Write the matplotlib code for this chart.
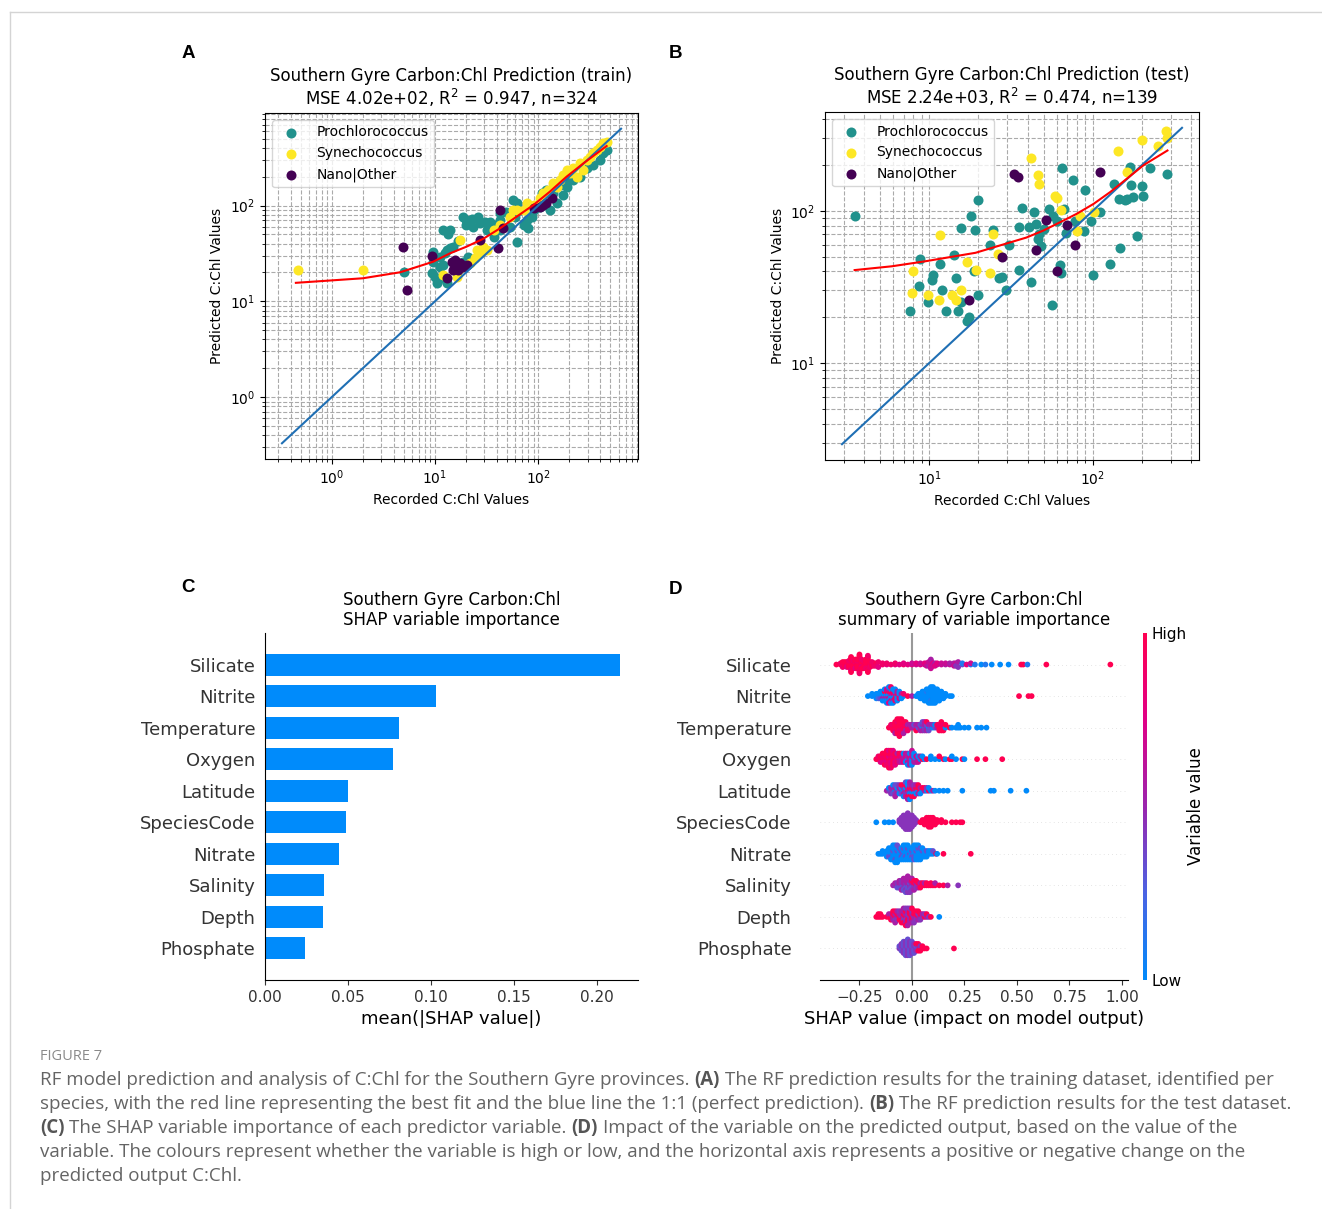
import numpy as np
import matplotlib
matplotlib.use("Agg")
import matplotlib.pyplot as plt
from matplotlib.colors import LinearSegmentedColormap, Normalize
from matplotlib.cm import ScalarMappable
from matplotlib.lines import Line2D

# ---------------- data: panel A (train) ----------------
teal_A_x = [5.0, 9.6, 10.4, 9.3, 11.2, 12, 10, 12.5, 13, 14, 15, 12, 14, 13.5, 16.8, 18.8, 20, 22.6, 26, 27,
            30.5, 34, 37, 43, 43, 49, 57, 62, 66, 59, 53, 62, 72, 80, 20, 23.5, 11.6, 13, 16.2, 17.5, 18.8, 21,
            11.2, 9.6, 43, 31.6, 37, 90, 104, 108, 120, 140, 162, 188, 188, 218, 253, 294, 341, 395, 426, 459,
            151, 175, 130, 77, 86]
teal_A_y = [20, 33, 15.4, 19.6, 23, 24, 18, 32, 34, 36, 37, 55, 56, 50, 43, 76, 71, 73, 76, 65,
            68, 68, 63, 71, 83, 86, 114, 105, 90, 76, 60, 42, 63, 58, 63, 60, 17.4, 15.4, 20.4, 23, 26, 29,
            29, 26, 55.5, 55.5, 47, 90, 97, 134, 145, 134, 164, 157, 185, 185, 200, 244, 265, 299, 351, 380,
            105, 129, 90, 71, 76]
yellow_A_x = [0.47, 2.0, 17.5, 16.8, 18.8, 21.8, 24.4, 27, 29.4, 31.6, 37, 43, 53, 57, 62, 72, 77, 90, 104, 112,
              125, 140, 151, 162, 175, 188, 203, 218, 253, 294, 316, 367, 395, 426, 459, 235, 273, 341, 12, 16.2,
              25.3, 120]
yellow_A_y = [21, 21, 44, 21, 23, 25, 28, 32, 37, 34, 55.5, 63, 76, 90, 90, 90, 105, 101, 119, 134,
              145, 171, 157, 185, 208, 235, 217, 244, 275, 299, 324, 380, 411, 446, 463, 200, 235, 351, 18.8, 18,
              34, 114]
purple_A_x = [4.9, 5.4, 9.3, 13, 14.5, 15.6, 16.2, 17.5, 18.8, 16.8, 15, 20.2, 27, 41, 46, 43, 90, 104, 112, 135, 120]
purple_A_y = [37, 13, 30, 17.4, 26, 27, 24, 25, 23, 21, 21, 24, 44, 36, 58, 90, 94, 97, 101, 119, 105]
one2one_A = [0.33, 633]
fit_A_x = [0.45, 2.0, 4.6, 9.6, 14, 20.2, 29.4, 42.6, 61.7, 89.5, 130, 188, 273, 459]
fit_A_y = [15.6, 17.4, 20.1, 25.9, 31.7, 37.2, 45, 57.8, 76.5, 101, 140, 200, 275, 418]

# ---------------- data: panel B (test) ----------------
teal_B_x = [3.5, 20, 18, 19, 15.7, 8.8, 8.7, 7.6, 9.9, 10.4, 10.5, 11.7, 11.9, 12.7, 14.1, 14.6, 15, 15.7, 17, 17.5,
            20, 18.8, 23.6, 24.4, 26.8, 28, 29.5, 30.6, 35.6, 35.6, 37, 41, 42, 44, 45, 46, 47, 48, 50, 54, 56, 57,
            60, 63, 64, 65, 67, 69, 76, 78, 88, 90, 97, 100, 111, 127, 135, 144, 147, 158, 162, 168, 172, 177, 187,
            200, 204, 224, 286]
teal_B_y = [92, 117, 92, 75, 77, 48, 32, 22, 25, 35, 38, 45, 30, 22, 51, 36, 22, 25, 19, 20,
            28, 40, 60, 75, 36, 37, 30, 60, 78, 41, 104, 78, 34, 98, 82, 65, 70, 59, 76, 103, 24, 93,
            86, 44, 39, 190, 103, 72, 159, 86, 74, 138, 86, 38, 98, 45, 151, 119, 57, 117, 120, 195, 148, 123, 68,
            146, 125, 192, 174]
yellow_B_x = [8.0, 7.9, 9.9, 11.4, 11.7, 13.8, 14.5, 15.7, 17, 19.4, 23.6, 24.7, 26.4, 42, 46, 47, 59, 60, 64, 80,
              84, 101, 143, 162, 200, 252, 279, 286]
yellow_B_y = [40, 29, 28, 26, 69, 28, 26, 30, 46, 41, 39, 70, 52, 224, 172, 150, 125, 121, 102, 74,
              93, 98, 246, 181, 291, 268, 334, 302]
purple_B_x = [17.5, 27.7, 33, 35, 45, 51.5, 60, 70, 78, 111]
purple_B_y = [26, 50, 175, 166, 55, 87, 40, 81, 60, 181]
one2one_B = [2.93, 351]
fit_B_x = [3.5, 5.9, 9.45, 19.2, 30.9, 39.2, 49.6, 62.9, 79.6, 101, 128, 162, 205, 286]
fit_B_y = [40.8, 43.2, 46.6, 53, 61.8, 66.7, 74, 84, 95.5, 111, 133, 163, 200, 249]

species = ["Prochlorococcus", "Synechococcus", "Nano|Other"]

# ---------------- data: panel C ----------------
features = ["Silicate", "Nitrite", "Temperature", "Oxygen", "Latitude", "SpeciesCode",
            "Nitrate", "Salinity", "Depth", "Phosphate"]
importance = [0.2139, 0.103, 0.0807, 0.0771, 0.050, 0.0488, 0.0446, 0.0355, 0.0349, 0.0241]

# ---------------- data: panel D (SHAP value per point group, colour digits 0=low .. 9=high) ----------------
silicate_x = [-.36, -.34, -.33, -.32, -.31, -.30, -.29, -.28, -.27, -.26, -.25, -.24, -.23, -.22, -.21, -.20, -.19,
              -.18, -.17, -.16, -.14, -.12, -.10, -.08, -.06, -.04, -.02, 0, .02, .04, .06, .07, .08, .09, .10,
              .11, .12, .14, .16, .18, .20, .21, .22, .24, .26, .28, .30, .33, .35, .38, .42, .46, .52, .53, .55,
              .64, .945]
silicate_c = ["9", "98", "998", "9899", "99897", "989998", "9989799", "9899989", "99989979", "98999899",
              "99899989", "89997998", "9989989", "98999989", "998998", "98998", "8998", "988", "898", "87", "88",
              "78", "8", "78", "7", "87", "7", "76", "67", "76", "67", "676", "6756", "7665", "676", "657", "67",
              "66", "56", "65", "656", "564", "54", "31", "7", "16", "1", "0", "1", "0", "0", "0", "9", "9", "1",
              "9", "9"]
nitrite_x = [-.21, -.19, -.17, -.16, -.15, -.14, -.13, -.12, -.11, -.10, -.09, -.08, -.07, -.06, -.05, -.04, -.02,
             0, .02, .03, .04, .05, .06, .07, .08, .09, .10, .11, .12, .13, .14, .15, .16, .18, .19, .51, .555, .57]
nitrite_c = ["0", "00", "000", "002", "0030", "00500", "005900", "0059060", "00690570", "05096008", "0709500",
             "069080", "08050", "9070", "050", "08", "9", "5", "0", "00", "000", "0000", "00000", "000100",
             "0000000", "00001000", "00000000", "0000000", "000000", "00000", "0000", "000", "00", "0", "0",
             "9", "9", "9"]
temp_x = [-.11, -.10, -.09, -.08, -.07, -.06, -.05, -.04, -.03, -.02, -.01, 0, .01, .02, .03, .04, .05, .06, .07,
          .08, .09, .10, .11, .12, .13, .14, .15, .16, .18, .19, .21, .22, .23, .25, .27, .31, .33, .355]
temp_c = ["9", "98", "989", "99895", "999899", "9989999", "998999", "89995", "9859", "958", "85", "55", "53",
          "459", "35", "535", "0453", "3545", "4359", "053", "35", "04", "30", "59", "989", "9899", "989", "09",
          "9", "0", "0", "00", "0", "0", "0", "0", "0", "0"]
oxy_x = [-.17, -.16, -.15, -.14, -.13, -.12, -.11, -.10, -.09, -.08, -.07, -.06, -.05, -.04, -.03, -.02, -.01, 0,
         .01, .02, .03, .04, .05, .06, .07, .09, .11, .13, .15, .16, .18, .19, .21, .24, .25, .31, .35, .43]
oxy_c = ["9", "98", "997", "9879", "98799", "897989", "9789879", "9879798", "879897", "98797", "7985", "5869",
         "5759", "6570", "5606", "05650", "56505", "060506", "5050", "065", "506", "05", "90", "0", "9", "00",
         "0", "09", "9", "0", "9", "90", "0", "9", "0", "9", "9", "9"]
lat_x = [-.12, -.11, -.10, -.09, -.08, -.07, -.06, -.05, -.04, -.03, -.02, -.01, 0, .01, .02, .03, .04, .05, .06,
         .07, .08, .09, .10, .11, .13, .15, .17, .24, .375, .39, .47, .545]
lat_c = ["5", "40", "354", "4530", "05435", "4053", "3504", "5039", "04590", "504953", "9540905", "5904950",
         "49059", "95049", "5905", "0959", "950", "09", "59", "04", "90", "0", "5", "0", "0", "0", "0", "0",
         "0", "0", "0", "0"]
species_x = [-.17, -.13, -.11, -.09, -.06, -.05, -.04, -.03, -.02, -.01, 0, .01, .02, .04, .05, .06, .07, .08,
             .09, .10, .11, .12, .14, .16, .19, .21, .23, .24]
species_c = ["0", "0", "0", "0", "44", "4444", "444444", "4444444", "44444444", "4444444", "444444", "4444", "44",
             "9", "99", "999", "9999", "99999", "99999", "9999", "999", "99", "99", "9", "9", "9", "9", "9"]
nitrate_x = [-.16, -.15, -.14, -.12, -.11, -.10, -.09, -.08, -.07, -.06, -.05, -.04, -.03, -.02, -.01, 0, .01,
             .02, .03, .04, .05, .06, .07, .08, .09, .10, .115, .12, .15, .28]
nitrate_c = ["0", "0", "00", "000", "0030", "00300", "030000", "0000300", "0300030", "00030", "03300", "300300",
             "003000", "000300", "30000", "03300", "003030", "030000", "000300", "00030", "0300", "000", "030",
             "00", "00", "03", "9", "0", "9", "9"]
sal_x = [-.09, -.08, -.07, -.06, -.05, -.04, -.03, -.02, -.01, 0, .01, .02, .03, .04, .05, .06, .07, .08, .09,
         .10, .11, .13, .15, .17, .22]
sal_c = ["5", "45", "543", "4535", "54345", "354535", "5435453", "45353545", "5345354", "453945", "59495",
         "9549", "495", "959", "99", "95", "99", "9", "99", "9", "95", "9", "9", "5", "4"]
depth_x = [-.17, -.16, -.15, -.14, -.12, -.11, -.10, -.09, -.08, -.07, -.06, -.05, -.04, -.03, -.02, -.01, 0,
           .01, .02, .03, .04, .05, .06, .07, .08, .09, .13]
depth_c = ["9", "99", "99", "9", "9", "95", "959", "5959", "95495", "5945", "9594", "45959", "594595", "9549549",
           "5495945", "495954", "959459", "49594", "5949", "9459", "594", "45", "94", "59", "4", "9", "0"]
phos_x = [-.06, -.05, -.04, -.03, -.02, -.01, 0, .01, .02, .03, .04, .05, .06, .07, .20]
phos_c = ["43", "3434", "434343", "3434343", "43434343", "3434343", "434343", "34343", "4349", "3499", "949",
          "99", "9", "9", "9"]

swarm_rows = [(silicate_x, silicate_c), (nitrite_x, nitrite_c), (temp_x, temp_c), (oxy_x, oxy_c),
              (lat_x, lat_c), (species_x, species_c), (nitrate_x, nitrate_c), (sal_x, sal_c),
              (depth_x, depth_c), (phos_x, phos_c)]

caption_lines = [
    [("RF model prediction and analysis of C:Chl for the Southern Gyre provinces.", False), ("(A)", True),
     ("The RF prediction results for the training dataset, identified per", False)],
    [("species, with the red line representing the best fit and the blue line the 1:1 (perfect prediction).", False),
     ("(B)", True), ("The RF prediction results for the test dataset.", False)],
    [("(C)", True), ("The SHAP variable importance of each predictor variable.", False), ("(D)", True),
     ("Impact of the variable on the predicted output, based on the value of the", False)],
    [("variable. The colours represent whether the variable is high or low, and the horizontal axis represents a positive or negative change on the", False)],
    [("predicted output C:Chl.", False)],
]
caption_line_ends = [1275, 1287, 1240, 1242, 244]

# ---------------- figure ----------------
W, H = 1322, 1209
fig = plt.figure(figsize=(W / 100, H / 100), dpi=100)
fig.patch.set_facecolor("white")


def rect(l, t, r, b):
    return [l / W, 1 - b / H, (r - l) / W, (b - t) / H]


sp_colors = ["#21918c", "#fde725", "#440154"]


def scatter_panel(ax, groups, one2one, fit_x, fit_y, title):
    for (xs, ys), col, lab in zip(groups, sp_colors, species):
        ax.scatter(xs, ys, s=52, color=col, label=lab, zorder=2, linewidths=0)
    ax.plot(one2one, one2one, color="#1f6fb4", lw=1.5, zorder=3)
    ax.plot(fit_x, fit_y, color="red", lw=1.5, zorder=3)
    ax.set_xscale("log")
    ax.set_yscale("log")
    ax.grid(True, which="both", ls="--", color="#aaaaaa", lw=0.8)
    ax.set_axisbelow(True)
    ax.legend(loc="upper left", fontsize=10)
    ax.set_title(title, fontsize=12, linespacing=1.1)
    ax.set_xlabel("Recorded C:Chl Values", fontsize=10)
    ax.set_ylabel("Predicted C:Chl Values", fontsize=10)
    ax.tick_params(labelsize=10)


axA = fig.add_axes(rect(265, 113, 638, 459))
scatter_panel(axA, [(teal_A_x, teal_A_y), (yellow_A_x, yellow_A_y), (purple_A_x, purple_A_y)],
              one2one_A, fit_A_x, fit_A_y,
              "Southern Gyre Carbon:Chl Prediction (train)\nMSE 4.02e+02, R$^2$ = 0.947, n=324")

axB = fig.add_axes(rect(825, 112, 1199, 460))
scatter_panel(axB, [(teal_B_x, teal_B_y), (yellow_B_x, yellow_B_y), (purple_B_x, purple_B_y)],
              one2one_B, fit_B_x, fit_B_y,
              "Southern Gyre Carbon:Chl Prediction (test)\nMSE 2.24e+03, R$^2$ = 0.474, n=139")

axis_color = "#333333"

# ---- panel C ----
axC = fig.add_axes(rect(265, 633, 638, 980))
ypos = np.arange(len(features))[::-1]
axC.barh(ypos, importance, 0.7, align="center", color="#008bfb")
axC.set_yticks(ypos)
axC.set_yticklabels(features, fontsize=13)
axC.set_ylim(-1, len(features))
axC.set_xlim(0, 0.225)
axC.set_xticks([0, 0.05, 0.10, 0.15, 0.20])
axC.yaxis.set_ticks_position("none")
axC.xaxis.set_ticks_position("bottom")
for s in ["top", "right"]:
    axC.spines[s].set_visible(False)
axC.tick_params(color=axis_color, labelcolor=axis_color)
axC.tick_params("x", labelsize=11)
axC.set_xlabel("mean(|SHAP value|)", fontsize=13)
axC.set_title("Southern Gyre Carbon:Chl\nSHAP variable importance", fontsize=12, linespacing=1.1)

# ---- panel D ----
red_blue = LinearSegmentedColormap.from_list(
    "red_blue", [(0.0, "#008afb"), (0.25, "#4b63e3"), (0.5, "#9a25ae"), (0.75, "#e00086"), (1.0, "#ff0051")])


def swarm_offsets(shaps, row_height=0.4, nbins=100):
    shaps = np.asarray(shaps, float)
    n = len(shaps)
    quant = np.round(nbins * (shaps - shaps.min()) / (shaps.max() - shaps.min() + 1e-8))
    inds = np.argsort(quant, kind="stable")
    layer, last_bin = 0, -1
    ys = np.zeros(n)
    for ind in inds:
        if quant[ind] != last_bin:
            layer = 0
        ys[ind] = np.ceil(layer / 2) * ((layer % 2) * 2 - 1)
        layer += 1
        last_bin = quant[ind]
    ys *= 0.9 * (row_height / np.max(ys + 1))
    return ys


axD = fig.add_axes(rect(820, 633, 1128, 980))
axD.axvline(0, color="#999999", zorder=-1)
nrow = len(swarm_rows)
for i, (xs, cs) in enumerate(swarm_rows):
    pos = nrow - 1 - i
    axD.axhline(pos, color="#cccccc", lw=0.5, dashes=(1, 5), zorder=-1)
    counts = [len(c) for c in cs]
    shaps = np.repeat(np.array(xs, float), counts)
    vals = np.array([int(ch) for c in cs for ch in c], float) / 9.0
    ys = swarm_offsets(shaps)
    axD.scatter(shaps, pos + ys, c=vals, cmap=red_blue, vmin=0, vmax=1, s=17, linewidths=0, zorder=3)
axD.set_xlim(-0.438, 1.029)
axD.set_ylim(-1, nrow)
axD.set_yticks(np.arange(nrow)[::-1])
axD.set_yticklabels(features, fontsize=13)
axD.set_xticks([-0.25, 0, 0.25, 0.5, 0.75, 1.0])
axD.yaxis.set_ticks_position("none")
axD.xaxis.set_ticks_position("bottom")
for s in ["top", "right", "left"]:
    axD.spines[s].set_visible(False)
axD.tick_params(color=axis_color, labelcolor=axis_color)
axD.tick_params("x", labelsize=11)
axD.tick_params("y", pad=17)
axD.set_xlabel("SHAP value (impact on model output)", fontsize=13)
axD.set_title("Southern Gyre Carbon:Chl\nsummary of variable importance", fontsize=12, linespacing=1.1)

cax = fig.add_axes(rect(1143, 633, 1147, 980))
cb = fig.colorbar(ScalarMappable(norm=Normalize(0, 1), cmap=red_blue), cax=cax, ticks=[0, 1])
cb.set_ticklabels(["Low", "High"])
cb.outline.set_visible(False)
cax.tick_params(labelsize=11, length=0)
cb.set_label("Variable value", size=12, labelpad=0)

# ---- panel letters ----
for letter, (px, py) in zip("ABCD", [(188, 53), (676, 53), (188, 587), (676, 590)]):
    fig.text(px / W, 1 - py / H, letter, fontsize=13.5, fontweight="bold", ha="center", va="center",
             family="Liberation Sans")

# ---- frame lines ----
fig.add_artist(Line2D([10 / W, 1.0], [1 - 12 / H, 1 - 12 / H], transform=fig.transFigure, color="#d4d4d4", lw=1))
fig.add_artist(Line2D([10 / W, 10 / W], [0, 1 - 12 / H], transform=fig.transFigure, color="#d4d4d4", lw=1))

# ---- caption ----
cap_color = "#646464"
cap_font = "Open Sans"
renderer = fig.canvas.get_renderer()
fig.text(40 / W, 1 - 1057 / H, "FIGURE 7", fontsize=10.5, color="#8a8a8a", ha="left", va="center", family=cap_font)


def text_width(s, size, bold):
    t = fig.text(0, 0, s, fontsize=size, fontweight="bold" if bold else "normal", family=cap_font)
    w = t.get_window_extent(renderer=renderer).width
    t.remove()
    return w


def line_width(pieces, size):
    sp = text_width("a a", size, False) - text_width("aa", size, False)
    return sum(text_width(s, size, b) for s, b in pieces) + sp * (len(pieces) - 1)


base = 12.0
cap_size = min(base * (end - 40.0) / line_width(pieces, base)
               for pieces, end in zip(caption_lines[:4], caption_line_ends[:4]))
space_w = text_width("a a", cap_size, False) - text_width("aa", cap_size, False)
for k, pieces in enumerate(caption_lines):
    y = 1080 + 24 * k
    x = 40.0
    for s, b in pieces:
        t = fig.text(x / W, 1 - y / H, s, fontsize=cap_size, fontweight="bold" if b else "normal",
                     color="#555555" if b else cap_color, ha="left", va="center", family=cap_font)
        x += t.get_window_extent(renderer=renderer).width + space_w

fig.savefig("out.png", dpi=100, facecolor="white")
